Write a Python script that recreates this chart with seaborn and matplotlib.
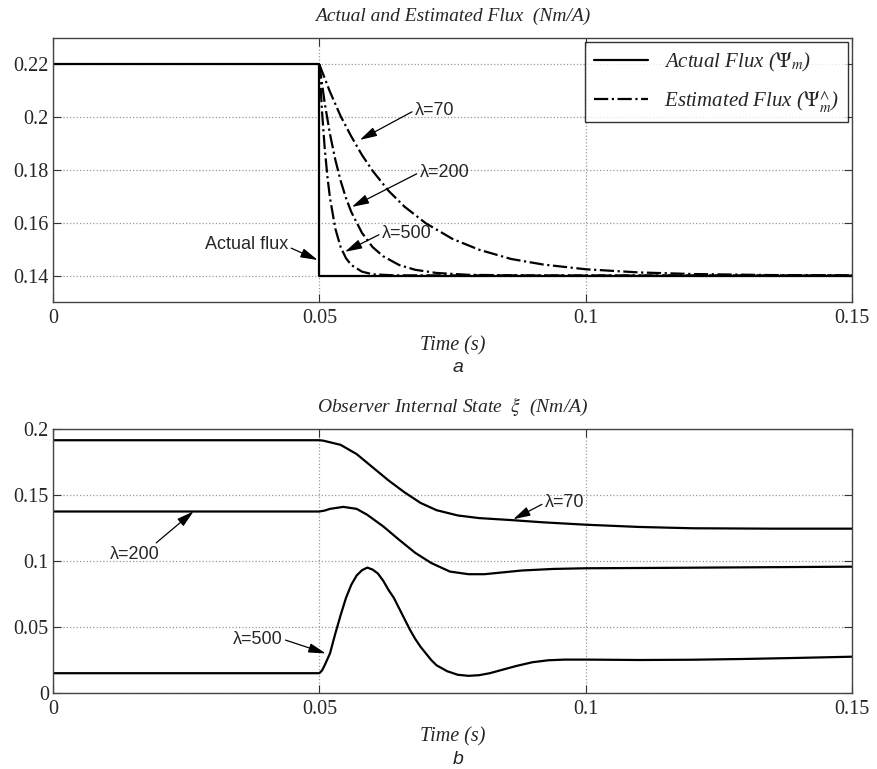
import matplotlib
matplotlib.use("Agg")
import matplotlib.pyplot as plt
from matplotlib.lines import Line2D
import seaborn as sns

# values
# (a) actual and estimated flux
t_actual = [0.0, 0.05, 0.05, 0.15]
flux_actual = [0.22, 0.22, 0.14, 0.14]

t_est70 = [0.050, 0.052, 0.054, 0.056, 0.058, 0.060, 0.063, 0.066, 0.070, 0.075,
           0.080, 0.086, 0.092, 0.100, 0.110, 0.120, 0.135, 0.150]
flux_est70 = [0.220, 0.2096, 0.2004, 0.1927, 0.1857, 0.1797, 0.1721, 0.1661, 0.1598, 0.1539,
              0.1498, 0.1463, 0.1442, 0.1424, 0.1412, 0.1406, 0.1402, 0.1401]

t_est200 = [0.050, 0.051, 0.052, 0.053, 0.054, 0.055, 0.056, 0.058, 0.060, 0.062,
            0.065, 0.068, 0.072, 0.078, 0.090, 0.150]
flux_est200 = [0.220, 0.2055, 0.1936, 0.1839, 0.1759, 0.1694, 0.1641, 0.1562, 0.1508, 0.1473,
               0.1440, 0.1422, 0.1410, 0.1403, 0.1400, 0.1400]

t_est500 = [0.050, 0.0505, 0.051, 0.0515, 0.052, 0.053, 0.054, 0.055, 0.056, 0.058,
            0.060, 0.064, 0.150]
flux_est500 = [0.220, 0.2023, 0.1885, 0.1778, 0.1694, 0.1578, 0.1508, 0.1466, 0.1440, 0.1415,
               0.1405, 0.1401, 0.1400]

# (b) observer internal state xi
t_xi70 = [0.0, 0.050, 0.0507, 0.054, 0.057, 0.060, 0.063, 0.066, 0.069, 0.072,
          0.076, 0.080, 0.086, 0.092, 0.100, 0.110, 0.120, 0.135, 0.150]
xi70 = [0.1915, 0.1915, 0.1912, 0.1880, 0.1810, 0.1710, 0.1610, 0.1520, 0.1440, 0.1385,
        0.1345, 0.1325, 0.1310, 0.1293, 0.1275, 0.1258, 0.1248, 0.1245, 0.1245]

t_xi200 = [0.0, 0.050, 0.051, 0.052, 0.0545, 0.057, 0.059, 0.062, 0.065, 0.068,
           0.071, 0.0745, 0.078, 0.081, 0.084, 0.088, 0.094, 0.100, 0.115, 0.130, 0.150]
xi200 = [0.1375, 0.1375, 0.1382, 0.1395, 0.1410, 0.1395, 0.1350, 0.1262, 0.1160, 0.1062,
         0.0985, 0.0920, 0.0900, 0.0900, 0.0912, 0.0928, 0.0940, 0.0945, 0.0948, 0.0952, 0.0957]

t_xi500 = [0.0, 0.050, 0.0505, 0.051, 0.052, 0.053, 0.054, 0.055, 0.056, 0.057,
           0.058, 0.059, 0.060, 0.061, 0.062, 0.063, 0.064, 0.065, 0.066, 0.067,
           0.068, 0.069, 0.070, 0.071, 0.072, 0.074, 0.076, 0.078, 0.080, 0.082,
           0.084, 0.087, 0.090, 0.093, 0.096, 0.100, 0.110, 0.120, 0.130, 0.140, 0.150]
xi500 = [0.015, 0.015, 0.017, 0.021, 0.030, 0.045, 0.059, 0.072, 0.082, 0.089,
         0.093, 0.095, 0.0935, 0.0905, 0.085, 0.078, 0.072, 0.064, 0.056, 0.048,
         0.041, 0.035, 0.030, 0.025, 0.021, 0.0165, 0.0138, 0.0130, 0.0135, 0.0150,
         0.0172, 0.0205, 0.0233, 0.0248, 0.0253, 0.0253, 0.0250, 0.0252, 0.0258, 0.0266, 0.0275]

x_ticks = [0, 0.05, 0.1, 0.15]
x_ticklabels = ["0", "0.05", "0.1", "0.15"]
flux_ticks = [0.14, 0.16, 0.18, 0.2, 0.22]
flux_ticklabels = ["0.14", "0.16", "0.18", "0.2", "0.22"]
xi_ticks = [0, 0.05, 0.1, 0.15, 0.2]
xi_ticklabels = ["0", "0.05", "0.1", "0.15", "0.2"]

sns.set_style("white")
plt.rcParams["font.family"] = ["Liberation Serif", "DejaVu Serif"]
plt.rcParams["mathtext.fontset"] = "stix"

fig = plt.figure(figsize=(8.77, 7.69), dpi=100)
ax1 = fig.add_axes([53 / 877, 1 - 302 / 769, 799 / 877, 264 / 769])
ax2 = fig.add_axes([53 / 877, 1 - 693 / 769, 799 / 877, 264 / 769])

lw = 1.6
sns.lineplot(x=t_actual, y=flux_actual, ax=ax1, color="black", lw=lw,
             estimator=None, sort=False)
for tt, ff in [(t_est70, flux_est70), (t_est200, flux_est200), (t_est500, flux_est500)]:
    sns.lineplot(x=tt, y=ff, ax=ax1, color="black", lw=lw, linestyle="-.",
                 estimator=None, sort=False)

for tt, xx in [(t_xi70, xi70), (t_xi200, xi200), (t_xi500, xi500)]:
    sns.lineplot(x=tt, y=xx, ax=ax2, color="black", lw=lw,
                 estimator=None, sort=False)


def style_axes(ax, yticks, ylabels, ylim):
    ax.set_xlim(0, 0.15)
    ax.set_ylim(*ylim)
    ax.set_xticks(x_ticks)
    ax.set_xticklabels(x_ticklabels)
    ax.set_yticks(yticks)
    ax.set_yticklabels(ylabels)
    ax.tick_params(direction="in", length=6, width=0.8, labelsize=14.5,
                   top=True, right=True, bottom=True, left=True, color="#333333")
    ax.tick_params(axis="x", pad=5)
    ax.tick_params(axis="y", pad=3)
    ax.grid(True, linestyle=":", color="#999999", lw=0.9)
    for sp in ax.spines.values():
        sp.set_visible(True)
        sp.set_color("#444444")
        sp.set_linewidth(1.0)
    ax.set_xlabel("Time (s)", fontsize=14.5, style="italic", labelpad=6)
    ax.set_ylabel("")


style_axes(ax1, flux_ticks, flux_ticklabels, (0.13, 0.23))
style_axes(ax2, xi_ticks, xi_ticklabels, (0, 0.2))

ax1.set_title("Actual and Estimated Flux  (Nm/A)", fontsize=14, style="italic", pad=12)
ax2.set_title(r"Observer Internal State  $\xi$  (Nm/A)", fontsize=14, style="italic", pad=12)

# legend
handles = [Line2D([], [], color="black", lw=lw),
           Line2D([], [], color="black", lw=lw, linestyle="-.")]
labels = [r"Actual Flux ($\Psi_m$)", r"Estimated Flux ($\Psi^{\wedge}_m$)"]
leg = ax1.legend(handles, labels, loc="upper right", frameon=True, fancybox=False,
                 borderaxespad=0.2, handlelength=2.6, labelspacing=0.75,
                 prop={"style": "italic", "size": 15})
leg.get_frame().set_edgecolor("black")
leg.get_frame().set_linewidth(1.0)

# annotations
arrow = dict(arrowstyle="-|>,head_length=0.8,head_width=0.22", color="black",
             lw=0.9, shrinkA=0, shrinkB=0)
sans = ["Liberation Sans", "DejaVu Sans"]


def note(ax, text, xy, xytext, ha, relpos):
    ap = dict(arrow, relpos=relpos)
    ax.annotate(text, xy=xy, xytext=xytext, ha=ha, va="center", fontsize=13,
                family=sans, arrowprops=ap)


note(ax1, "λ=70", (0.0576, 0.1914), (0.0680, 0.2027), "left", (0, 0.5))
note(ax1, "λ=200", (0.0561, 0.1660), (0.0689, 0.1792), "left", (0, 0.5))
note(ax1, "λ=500", (0.0548, 0.1490), (0.0618, 0.1561), "left", (0, 0.5))
note(ax1, "Actual flux", (0.0497, 0.1459), (0.0441, 0.1516), "right", (1, 0.4))

note(ax2, "λ=70", (0.0864, 0.1316), (0.0924, 0.1442), "left", (0, 0.5))
note(ax2, "λ=200", (0.0264, 0.1376), (0.0107, 0.1048), "left", (0.85, 1.0))
note(ax2, "λ=500", (0.0512, 0.0300), (0.0337, 0.0409), "left", (1, 0.5))

fig.text(458 / 877, 1 - 368 / 769, "a", ha="center", va="center", fontsize=14,
         style="italic", family=sans)
fig.text(458 / 877, 1 - 760 / 769, "b", ha="center", va="center", fontsize=14,
         style="italic", family=sans)

fig.savefig("out.png", dpi=100)
